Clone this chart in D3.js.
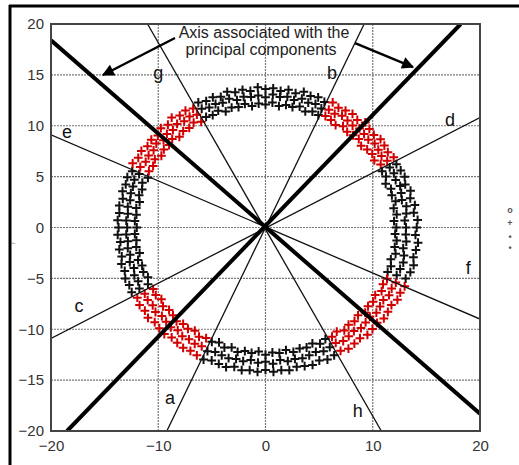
<!DOCTYPE html>
<meta charset="utf-8">
<html>
  <head>
    <!-- Load d3.js -->
    <script src="https://d3js.org/d3.v7.min.js"></script>
    <style>
      body { margin: 0; background: #fff; }
      text { font-family: "Liberation Sans", Arial, sans-serif; }
    </style>
  </head>
  <body>
    <svg id="viz" width="519" height="465"></svg>
    <script>
    const xTicks = [-20, -10, 0, 10, 20];
    const yTicks = [-20, -15, -10, -5, 0, 5, 10, 15, 20];
    const xGrid = [-10, 0, 10];
    const yGrid = [-15, -10, -5, 0, 5, 10, 15];

    // ring of samples, read as [angle in degrees, inner r, middle r, outer r]
    const ring = [
      [0,12.2,13.1,14.1],[3,12.0,13.0,14.2],[6,12.3,13.2,13.9],[9,12.1,13.3,14.1],
      [12,12.4,13.0,13.8],[15,12.2,13.1,14.0],[18,12.3,13.2,13.7],[21,12.0,13.0,13.9],
      [24,12.3,13.1,13.8],[27,12.2,13.0,13.7],[30,12.4,13.1,13.8],[33,12.1,12.9,13.6],
      [36,12.3,13.0,13.7],[39,12.2,13.1,13.8],[42,12.0,12.9,13.6],[45,12.3,13.0,13.7],
      [48,12.2,13.1,13.9],[51,12.1,12.9,13.6],[54,12.3,13.0,13.8],[57,12.0,13.1,13.7],
      [60,12.2,12.9,13.6],[63,12.3,13.0,13.8],[66,12.1,12.8,13.5],[69,12.2,13.0,13.7],
      [72,12.0,12.9,13.6],[75,12.3,13.1,13.8],[78,12.1,12.8,13.5],[81,12.2,13.0,13.7],
      [84,12.0,12.9,13.5],[87,12.3,13.1,13.7],[90,12.1,12.8,13.6],[93,12.2,13.0,13.8],
      [96,12.0,12.9,13.5],[99,12.3,13.0,13.7],[102,12.1,12.8,13.6],[105,12.2,13.1,13.8],
      [108,12.0,12.9,13.5],[111,12.3,13.0,13.7],[114,12.1,12.9,13.6],[117,12.2,13.1,13.8],
      [120,12.0,12.8,13.5],[123,12.3,13.0,13.7],[126,12.1,12.9,13.6],[129,12.2,13.1,13.9],
      [132,12.0,12.9,13.6],[135,12.3,13.0,13.8],[138,12.1,12.8,13.5],[141,12.2,13.1,13.7],
      [144,12.0,12.9,13.6],[147,12.3,13.0,13.8],[150,12.1,12.9,13.7],[153,12.2,13.1,13.9],
      [156,12.0,12.9,13.6],[159,12.3,13.1,13.8],[162,12.1,13.0,13.7],[165,12.2,13.0,13.8],
      [168,12.0,12.9,13.6],[171,12.2,13.0,13.8],[174,12.1,12.9,13.7],[177,12.2,13.0,13.8],
      [180,12.0,12.9,13.7],[183,12.2,13.0,13.8],[186,12.1,12.9,13.6],[189,12.2,13.0,13.8],
      [192,12.0,12.9,13.7],[195,12.3,13.1,13.9],[198,12.1,12.9,13.8],[201,12.2,13.1,14.0],
      [204,12.0,13.0,13.9],[207,12.3,13.2,14.0],[210,12.1,13.0,13.8],[213,12.2,13.1,14.0],
      [216,12.0,13.0,13.9],[219,12.3,13.2,14.1],[222,12.1,13.0,13.9],[225,12.2,13.1,14.0],
      [228,12.4,13.2,14.1],[231,12.2,13.0,13.9],[234,12.3,13.2,14.0],[237,12.1,13.1,14.1],
      [240,12.4,13.2,14.0],[243,12.2,13.1,14.1],[246,12.3,13.3,14.2],[249,12.1,13.1,14.0],
      [252,12.4,13.2,14.1],[255,12.2,13.3,14.2],[258,12.5,13.2,14.0],[261,12.3,13.3,14.2],
      [264,12.4,13.1,14.1],[267,12.2,13.3,14.2],[270,12.5,13.2,14.0],[273,12.3,13.4,14.2],
      [276,12.4,13.1,14.1],[279,12.2,13.3,14.2],[282,12.5,13.2,14.0],[285,12.3,13.3,14.1],
      [288,12.4,13.2,14.2],[291,12.2,13.1,14.0],[294,12.5,13.3,14.2],[297,12.3,13.2,14.1],
      [300,12.4,13.1,14.0],[303,12.2,13.3,14.2],[306,12.5,13.2,14.1],[309,12.3,13.1,14.0],
      [312,12.4,13.3,14.2],[315,12.2,13.2,14.1],[318,12.5,13.1,14.0],[321,12.3,13.3,14.2],
      [324,12.4,13.2,14.1],[327,12.2,13.1,14.0],[330,12.5,13.3,14.2],[333,12.3,13.2,14.1],
      [336,12.4,13.3,14.2],[339,12.2,13.1,14.0],[342,12.3,13.2,14.2],[345,12.1,13.3,14.3],
      [348,12.4,13.2,14.1],[351,12.2,13.0,14.2],[354,12.3,13.2,14.3],[357,12.1,13.1,14.0]
    ];

    // angular sectors (degrees) where samples are red
    const redSectors = [[28, 65], [119, 155], [209, 245], [298, 336]];

    // principal component axes (thick) and sector bounds (thin), as end points
    const thickLines = [
      [[-20, 18.4], [20, -18.3]],
      [[-18.5, -20], [18.2, 20]]
    ];
    const thinLines = [
      [[-9.2, -20], [9.2, 20]],
      [[-20, -10.9], [20, 10.8]],
      [[-20, 9.1], [20, -9.0]],
      [[-11.0, 20], [10.8, -20]]
    ];
    const lineLabels = ["g", "b", "e", "d", "c", "f", "a", "h"];
    const labelPos = [[-10.0, 15.2], [6.2, 15.2], [-18.5, 9.4], [17.2, 10.6],
                      [-17.4, -7.7], [18.9, -4.0], [-8.9, -16.8], [8.6, -18.0]];

    const noteLines = ["Axis associated with the", "principal components"];
    const arrows = [
      [[-8.44, 18.62], [-15.15, 14.99]],
      [[8.35, 18.13], [13.75, 15.77]]
    ];

    var svg = d3.select("#viz");

    var x = d3.scaleLinear().domain([-20, 20]).range([51, 480]);
    var y = d3.scaleLinear().domain([-20, 20]).range([431, 24]);

    // outer frame pieces
    svg.append("line").attr("x1", 9).attr("x2", 519).attr("y1", 6).attr("y2", 6)
        .attr("stroke", "#000").attr("stroke-width", 3);
    svg.append("line").attr("x1", 10).attr("x2", 10).attr("y1", 5).attr("y2", 465)
        .attr("stroke", "#000").attr("stroke-width", 3);

    // grid
    svg.selectAll(".vgrid").data(xGrid).enter().append("line")
        .attr("x1", d => x(d)).attr("x2", d => x(d))
        .attr("y1", y(-20)).attr("y2", y(20))
        .attr("stroke", "#777").attr("stroke-width", 1.2).attr("stroke-dasharray", "2,1");
    svg.selectAll(".hgrid").data(yGrid).enter().append("line")
        .attr("y1", d => y(d)).attr("y2", d => y(d))
        .attr("x1", x(-20)).attr("x2", x(20))
        .attr("stroke", "#777").attr("stroke-width", 1.2).attr("stroke-dasharray", "2,1");

    // flatten ring into points
    var pts = [];
    ring.forEach(r => {
        [r[1], r[2], r[3]].forEach(rad => {
            var a = r[0] * Math.PI / 180;
            pts.push({ a: r[0], px: rad * Math.cos(a), py: rad * Math.sin(a) });
        });
    });
    function isRed(a) {
        return redSectors.some(s => a >= s[0] && a <= s[1]);
    }
    pts.sort((p, q) => isRed(p.a) - isRed(q.a));

    var h = 4.4;
    svg.append("g").selectAll("path").data(pts).enter().append("path")
        .attr("d", d => {
            var cx = x(d.px), cy = y(d.py);
            return "M" + (cx - h) + "," + cy + "H" + (cx + h) + "M" + cx + "," + (cy - h) + "V" + (cy + h);
        })
        .attr("stroke", d => isRed(d.a) ? "#d20000" : "#111")
        .attr("stroke-width", 2);

    // lines
    svg.append("clipPath").attr("id", "box").append("rect")
        .attr("x", x(-20)).attr("y", y(20)).attr("width", x(20) - x(-20)).attr("height", y(-20) - y(20));
    svg.append("g").attr("clip-path", "url(#box)").selectAll("line").data(thinLines).enter().append("line")
        .attr("x1", d => x(d[0][0])).attr("y1", d => y(d[0][1]))
        .attr("x2", d => x(d[1][0])).attr("y2", d => y(d[1][1]))
        .attr("stroke", "#111").attr("stroke-width", 1.3);
    svg.append("g").attr("clip-path", "url(#box)").selectAll("line").data(thickLines).enter().append("line")
        .attr("x1", d => x(d[0][0])).attr("y1", d => y(d[0][1]))
        .attr("x2", d => x(d[1][0])).attr("y2", d => y(d[1][1]))
        .attr("stroke", "#000").attr("stroke-width", 4);

    // box
    svg.append("rect").attr("x", x(-20)).attr("y", y(20))
        .attr("width", x(20) - x(-20)).attr("height", y(-20) - y(20))
        .attr("fill", "none").attr("stroke", "#444").attr("stroke-width", 2);

    // axes
    var yAxis = svg.append("g").attr("transform", "translate(" + x(-20) + ",0)")
        .call(d3.axisLeft(y).tickValues(yTicks).tickSize(0).tickPadding(7));
    var xAxis = svg.append("g").attr("transform", "translate(0," + y(-20) + ")")
        .call(d3.axisBottom(x).tickValues(xTicks).tickSize(0).tickPadding(9));
    [xAxis, yAxis].forEach(g => {
        g.select(".domain").remove();
        g.selectAll("text").attr("font-size", 15).attr("fill", "#333")
            .attr("font-family", "'Liberation Sans', Arial, sans-serif");
    });

    // letters
    svg.selectAll(".lbl").data(lineLabels).enter().append("text")
        .attr("x", (d, i) => x(labelPos[i][0])).attr("y", (d, i) => y(labelPos[i][1]))
        .attr("text-anchor", "middle").attr("dominant-baseline", "central")
        .attr("font-size", 18).attr("fill", "#111")
        .text(d => d);

    // annotation
    svg.append("defs").append("marker").attr("id", "head")
        .attr("viewBox", "0 0 10 10").attr("refX", 9).attr("refY", 5)
        .attr("markerWidth", 5.5).attr("markerHeight", 5).attr("orient", "auto")
        .attr("markerUnits", "strokeWidth")
        .append("path").attr("d", "M0,0L10,5L0,10z").attr("fill", "#000");
    svg.selectAll(".arrow").data(arrows).enter().append("line")
        .attr("x1", d => x(d[0][0])).attr("y1", d => y(d[0][1]))
        .attr("x2", d => x(d[1][0])).attr("y2", d => y(d[1][1]))
        .attr("stroke", "#000").attr("stroke-width", 2.4).attr("marker-end", "url(#head)");
    svg.selectAll(".note").data(noteLines).enter().append("text")
        .attr("x", (d, i) => i == 0 ? 264 : 261).attr("y", (d, i) => 38 + i * 17)
        .attr("text-anchor", "middle").attr("font-size", 16).attr("fill", "#222")
        .text(d => d);

    // stray marks at the sides of the figure
    svg.selectAll(".side").data(["o", "+", "•", "•"]).enter().append("text")
        .attr("x", 510).attr("y", (d, i) => [210, 223, 237, 248][i])
        .attr("text-anchor", "middle").attr("dominant-baseline", "central")
        .attr("font-size", 9).attr("font-weight", "bold").attr("fill", "#555").text(d => d);
    svg.append("text").attr("transform", "translate(15,243) rotate(-90)")
        .attr("text-anchor", "middle").attr("font-size", 6).attr("fill", "#777").text("r");
    </script>
  </body>
</html>
